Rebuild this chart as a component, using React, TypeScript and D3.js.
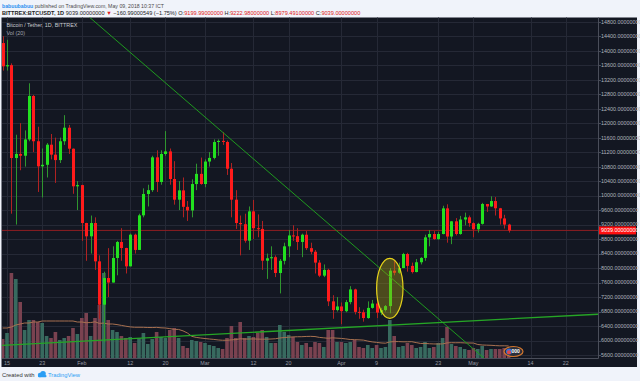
import React from "react";
import * as d3 from "d3";

const dates = [
  "01-14","01-15","01-16","01-17","01-18","01-19","01-20","01-21","01-22","01-23","01-24","01-25","01-26","01-27","01-28","01-29","01-30","01-31",
  "02-01","02-02","02-03","02-04","02-05","02-06","02-07","02-08","02-09","02-10","02-11","02-12","02-13","02-14","02-15","02-16","02-17","02-18","02-19","02-20","02-21","02-22","02-23","02-24","02-25","02-26","02-27","02-28",
  "03-01","03-02","03-03","03-04","03-05","03-06","03-07","03-08","03-09","03-10","03-11","03-12","03-13","03-14","03-15","03-16","03-17","03-18","03-19","03-20","03-21","03-22","03-23","03-24","03-25","03-26","03-27","03-28","03-29","03-30","03-31",
  "04-01","04-02","04-03","04-04","04-05","04-06","04-07","04-08","04-09","04-10","04-11","04-12","04-13","04-14","04-15","04-16","04-17","04-18","04-19","04-20","04-21","04-22","04-23","04-24","04-25","04-26","04-27","04-28","04-29","04-30",
  "05-01","05-02","05-03","05-04","05-05","05-06","05-07","05-08","05-09",
];

const opens = [
  14211,13568,13600,11037,11150,11100,11550,12750,11500,10808,10850,11405,11130,10980,11500,11874,11294,10256,
  10290,9243,8876,9243,8185,6989,7725,7600,8277,8719,8553,8047,8921,8500,9455,10044,10150,11056,10375,11148,11220,10458,9887,10144,9690,9590,10319,10600,
  10320,10940,11040,11479,11510,11480,10742,9887,9243,9210,8755,9565,9100,9080,8203,8270,8300,7863,8200,8600,8900,8880,8720,8920,8550,8450,8150,7790,7950,7081,6840,
  6940,6810,7060,7410,6790,6780,6620,6900,7020,6770,6840,6950,7928,7870,8000,8388,8060,7890,8160,8280,8848,8940,8800,8940,9648,8870,9290,8940,9340,9400,
  9240,9070,9220,9768,9700,9850,9650,9370,9200,
];
const highs = [
  14400,14300,13650,11680,12000,11800,13100,12780,11900,11300,11450,11700,11600,11600,12220,11950,11300,10400,
  10300,9250,9450,9400,8350,7900,8550,8600,8750,9100,8560,8950,8950,9500,10200,10300,11100,11250,11250,11780,11300,10950,10400,10500,9850,10450,10880,11050,
  11000,11200,11550,11550,11750,11520,10900,10150,9450,9500,9700,9880,9480,9300,8400,8600,8350,8250,8700,9050,9180,9100,8950,9020,8700,8500,8220,8100,7980,7250,7200,
  7050,7120,7500,7430,6920,6850,7080,7120,7180,6900,6980,8000,8200,8150,8420,8420,8150,8250,8300,8920,9050,9020,9000,9720,9760,9300,9380,9440,9530,9450,
  9260,9250,9800,9770,9980,9960,9660,9470,9223,
];
const lows = [
  13450,13450,9500,9200,10700,10800,11500,11200,10100,9950,10500,11000,10350,10900,11400,11150,10050,9600,
  8750,8200,8400,7950,6600,5950,7200,7600,7800,8200,7850,8047,8400,8500,9400,9700,10100,10100,10300,11100,10300,9750,9600,9400,9300,9400,10150,10300,
  10230,10800,11000,11100,11400,10570,9400,9080,8350,8700,8500,8800,8850,7950,7700,7950,7750,7300,8100,8300,8750,8500,8300,8500,8380,7850,7750,7750,6950,6600,6800,
  6450,6780,7000,6720,6600,6520,6600,6880,6620,6700,6800,6750,7800,7840,8000,7900,7850,7880,8100,8200,8600,8780,8780,8930,8700,8660,8900,8920,9180,9140,
  8850,8980,9200,9550,9690,9450,9200,9090,8979,
];
const closes = [
  13568,13600,11037,11150,11100,11550,12750,11500,10808,10850,11405,11130,10980,11500,11874,11294,10256,10290,
  9243,8876,9243,8185,6989,7725,7600,8277,8719,8553,8047,8921,8500,9455,10044,10150,11056,10375,11148,11220,10458,9887,10144,9690,9590,10319,10600,10320,
  10940,11040,11479,11510,11480,10742,9887,9243,9210,8755,9565,9100,9080,8203,8270,8300,7863,8200,8600,8900,8880,8720,8920,8550,8450,8150,7790,7950,7081,6840,6940,
  6810,7060,7410,6790,6780,6620,6900,7020,6770,6840,6950,7928,7870,8000,8388,8060,7890,8160,8280,8848,8940,8800,8940,9648,8870,9290,8940,9340,9400,9240,
  9070,9220,9768,9700,9850,9650,9370,9200,9039,
];
const volumes = [
  19,25,85,79,56,28,38,38,36,35,22,20,26,18,20,22,30,24,
  40,45,22,40,53,85,38,28,26,22,20,21,15,20,25,14,19,26,21,20,28,30,20,12,10,18,17,16,
  15,13,12,10,9,20,32,20,36,20,22,21,25,28,21,15,15,33,26,23,21,16,13,15,11,16,15,11,28,28,16,
  16,15,16,18,11,10,13,10,13,10,11,38,22,11,12,15,13,10,11,16,10,11,15,20,31,14,12,11,9,8,
  10,9,12,8,9,9,9,10,8,
];
// volume MA(20) values for the first days (window incomplete)
const volumeMALead = [30,30,31,33,34,35,35,36,36,37,37,37,37,37,37,37,37,36,36];

const priceTicks = [5600,6000,6400,6800,7200,7600,8000,8400,8800,9200,9600,10000,10400,10800,11200,11600,12000,12400,12800,13200,13600,14000,14400,14800];
const timeTickDates = ["01-15","01-23","02-01","02-12","02-20","03-01","03-12","03-20","04-01","04-09","04-23","05-01","05-14","05-22"];
const timeTickLabels = ["15","23","Feb","12","20","Mar","12","20","Apr","9","23","May","14","22"];

const lastPrice = 9039;
const downTrend = [["03-05", 11749], ["04-09", 8076]] as const;
const upTrend = [["02-06", 6011], ["05-09", 6596]] as const;
const highlight = { from: "04-09", to: "04-15", top: 8269, bottom: 6613 };

const parse = (s: string) => new Date(`2018-${s}T00:00:00Z`);
const FONT = "'Liberation Sans', Arial, sans-serif";

export default function App() {
  const L = 2, R = 598, T = 17.5, B = 358;
  const x = d3.scaleUtc().domain([parse("03-01"), parse("05-22")]).range([205, 565.8]);
  const y = d3.scaleLinear().domain([5600, 14800]).range([355, 21.7]);
  const v = d3.scaleLinear().domain([0, 100]).range([B, B - 100]);

  const ma = volumes.map((_, i) =>
    i < 19 ? volumeMALead[i] : d3.mean(volumes.slice(i - 19, i + 1)) as number
  );
  const maLine = d3.line<number>().x((_, i) => x(parse(dates[i]))).y((d) => v(d)).curve(d3.curveLinear);

  const trend = (pts: readonly (readonly [string, number])[]) => {
    const x1 = x(parse(pts[0][0])), y1 = y(pts[0][1]);
    const x2 = x(parse(pts[1][0])), y2 = y(pts[1][1]);
    const s = (y2 - y1) / (x2 - x1);
    return { x1: L, y1: y1 + (L - x1) * s, x2: R, y2: y1 + (R - x1) * s };
  };
  const dt = trend(downTrend);
  const ut = trend(upTrend);

  const ex1 = x(parse(highlight.from)), ex2 = x(parse(highlight.to));
  const ey1 = y(highlight.top), ey2 = y(highlight.bottom);

  const up = "#22e11f", dn = "#ff1b1b", upW = "#2f962f", dnW = "#b02222";
  const upV = "#386a5f", dnV = "#7a4250";

  return (
    <svg width={640} height={381} style={{ position: "fixed", left: 0, top: 0, display: "block" }} fontFamily={FONT}>
      <defs>
        <clipPath id="plot"><rect x={L} y={T} width={R - L} height={B - T} /></clipPath>
      </defs>
      <rect x={0} y={0} width={640} height={381} fill="#f0f3fa" />
      {/* header */}
      <text x={2} y={8} fontSize={5.6} textLength={162} lengthAdjust="spacingAndGlyphs">
        <tspan fill="#2a8ff0" fontWeight="bold">babuubabuu</tspan>
        <tspan fill="#4a4a4a"> published on TradingView.com, May 09, 2018 10:37 ICT</tspan>
      </text>
      <text x={2} y={15} fontSize={5.6} fill="#222">
        <tspan fontWeight="bold">BITTREX:BTCUSDT, 1D</tspan>
        <tspan> 9039.00000000 </tspan>
        <tspan fill="#e02020">▼</tspan>
        <tspan> −160.99000549 (−1.75%) O:</tspan>
        <tspan fill="#e02020">9199.99000000</tspan>
        <tspan> H:</tspan>
        <tspan fill="#e02020">9222.98000000</tspan>
        <tspan> L:</tspan>
        <tspan fill="#e02020">8979.49100000</tspan>
        <tspan> C:</tspan>
        <tspan fill="#e02020">9039.00000000</tspan>
      </text>

      {/* chart panel */}
      <rect x={1.5} y={T} width={635.5} height={367 - T} fill="#131722" />
      {/* grid */}
      {priceTicks.map((p) => (
        <line key={"h" + p} x1={L} x2={R} y1={Math.round(y(p)) + 0.5} y2={Math.round(y(p)) + 0.5} stroke="#252936" strokeWidth={1} />
      ))}
      {timeTickDates.map((d) => (
        <line key={"v" + d} x1={Math.round(x(parse(d))) + 0.5} x2={Math.round(x(parse(d))) + 0.5} y1={T} y2={B} stroke="#252936" strokeWidth={1} />
      ))}

      <g clipPath="url(#plot)">
        {/* volume */}
        {volumes.map((vol, i) => {
          const cx = x(parse(dates[i]));
          return (
            <rect key={"vol" + i} x={cx - 1.8} width={3.6} y={v(vol)} height={B - v(vol)}
              fill={closes[i] >= opens[i] ? upV : dnV} />
          );
        })}
        <path d={maLine(ma) || ""} fill="none" stroke="#a87150" strokeWidth={1} />

        {/* last price line */}
        <line x1={L} x2={R} y1={y(lastPrice)} y2={y(lastPrice)} stroke="#8e1d22" strokeWidth={1} />

        {/* candles */}
        {dates.map((d, i) => {
          const cx = Math.round(x(parse(d))) + 0.5;
          const isUp = closes[i] >= opens[i];
          const top = y(Math.max(opens[i], closes[i]));
          const bot = y(Math.min(opens[i], closes[i]));
          return (
            <g key={"c" + i}>
              <line x1={cx} x2={cx} y1={y(highs[i])} y2={y(lows[i])} stroke={isUp ? upW : dnW} strokeWidth={1} />
              <rect x={cx - 1.5} width={3} y={top} height={Math.max(1, bot - top)} fill={isUp ? up : dn} />
            </g>
          );
        })}

        {/* trend lines */}
        <line {...dt} stroke="#1f9a1f" strokeWidth={1} />
        <line {...ut} stroke="#26a626" strokeWidth={1.3} />

        {/* highlight ellipse */}
        <ellipse cx={(ex1 + ex2) / 2} cy={(ey1 + ey2) / 2} rx={(ex2 - ex1) / 2} ry={(ey2 - ey1) / 2}
          fill="rgba(170,160,20,0.38)" stroke="#e6d21a" strokeWidth={1.2} />

        {/* event badge */}
        <g transform="translate(513.5,351.5)">
          <ellipse rx={9.5} ry={5} fill="#2a2e39" stroke="#d2762e" strokeWidth={1.2} />
          <circle cx={-4.5} cy={0} r={3} fill="#3d6fd6" />
          <circle cx={-4.5} cy={0.8} r={2} fill="#e04848" />
          <text x={2.2} y={1.8} fontSize={5} fill="#fff" textAnchor="middle" fontWeight="bold">000</text>
        </g>
      </g>

      {/* legend */}
      <text x={6.5} y={27} fontSize={5.4} fill="#c9cbd1">Bitcoin / Tether, 1D, BITTREX</text>
      <text x={6.5} y={34.5} fontSize={5.4} fill="#a3a6af">Vol (20)</text>

      {/* axes */}
      <line x1={R + 0.5} x2={R + 0.5} y1={T} y2={B + 0.5} stroke="#4a4e5a" strokeWidth={1} />
      <line x1={L} x2={R + 0.5} y1={B + 0.5} y2={B + 0.5} stroke="#4a4e5a" strokeWidth={1} />
      {priceTicks.map((p) => (
        <g key={"pt" + p}>
          <line x1={R} x2={R + 3} y1={Math.round(y(p)) + 0.5} y2={Math.round(y(p)) + 0.5} stroke="#4a4e5a" />
          <text x={601} y={y(p) + 1.9} fontSize={5.4} fill="#b2b5be">{p.toFixed(8)}</text>
        </g>
      ))}
      <rect x={599} y={y(lastPrice) - 4} width={37} height={8} fill="#ff0f0f" />
      <text x={601} y={y(lastPrice) + 1.9} fontSize={5.4} fill="#ffffff">{lastPrice.toFixed(8)}</text>

      {timeTickDates.map((d, i) => (
        <text key={"tt" + d} x={x(parse(d))} y={364.5} fontSize={5.4} fill="#9598a1" textAnchor="middle">{timeTickLabels[i]}</text>
      ))}

      {/* footer */}
      <text x={2} y={376.5} fontSize={5.8} fill="#333">Created with</text>
      <g transform="translate(37,371)" fill="#2a9df4">
        <circle cx={3} cy={4} r={2.2} />
        <circle cx={6} cy={2.8} r={2.8} />
        <rect x={1} y={4} width={8.5} height={2.3} rx={1} />
      </g>
      <text x={48} y={376.5} fontSize={5.8} fill="#2a9df4">TradingView</text>
    </svg>
  );
}
